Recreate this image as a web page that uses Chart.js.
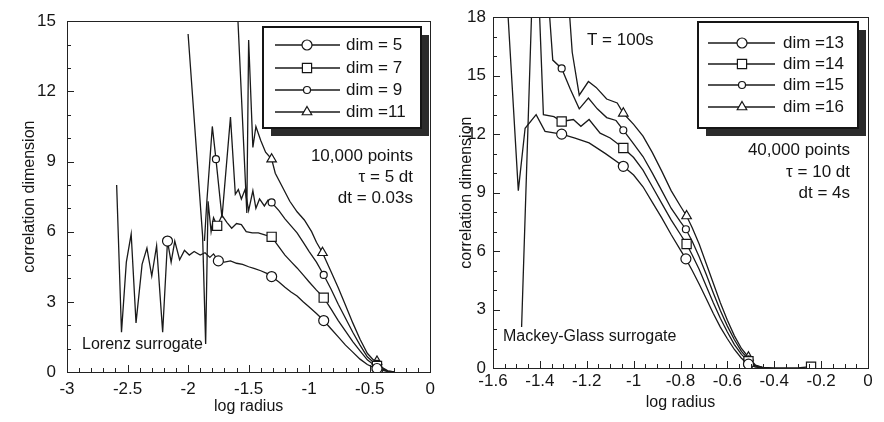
<!DOCTYPE html>
<html>
<head>
<meta charset="utf-8">
<script src="https://cdn.jsdelivr.net/npm/chart.js@4.4.1/dist/chart.umd.min.js"></script>
<style>
  html, body { margin: 0; padding: 0; background: #fff; }
  #wrap { position: relative; width: 884px; height: 422px; }
  .panel { position: absolute; top: 0; width: 442px; height: 422px; }
</style>
</head>
<body>
<div id="wrap">
  <div class="panel" style="left:0"><canvas id="lorenz" width="442" height="422"></canvas></div>
  <div class="panel" style="left:442px"><canvas id="mackey" width="442" height="422"></canvas></div>
</div>
<script>
// ---- Lorenz surrogate (left panel) ----
const lzDim5X = [-2.59,-2.55,-2.51,-2.47,-2.43,-2.38,-2.34,-2.30,-2.26,-2.21,-2.17,-2.14,-2.11,-2.07,-2.03,-1.99,-1.95,-1.90,-1.86,-1.82,-1.79,-1.75,-1.70,-1.65,-1.60,-1.55,-1.50,-1.45,-1.40,-1.35,-1.31,-1.25,-1.20,-1.15,-1.10,-1.05,-1.00,-0.94,-0.88,-0.82,-0.76,-0.70,-0.64,-0.58,-0.52,-0.47,-0.44,-0.40,-0.35,-0.30];
const lzDim5Y = [8.0,1.7,4.7,5.9,2.1,4.6,5.3,4.1,5.4,1.7,5.6,4.7,5.6,4.8,5.2,5.0,5.15,5.0,5.1,4.9,5.05,4.75,4.7,4.75,4.65,4.6,4.5,4.42,4.33,4.22,4.08,3.85,3.62,3.42,3.25,3.0,2.78,2.5,2.2,1.85,1.5,1.15,0.85,0.55,0.32,0.2,0.15,0.08,0.02,0.0];
const lzDim5Marks = [-2.17,-1.75,-1.31,-0.88,-0.44];

const lzDim7X = [-2.00,-1.88,-1.855,-1.835,-1.81,-1.79,-1.76,-1.72,-1.68,-1.64,-1.60,-1.56,-1.52,-1.47,-1.42,-1.36,-1.31,-1.25,-1.20,-1.15,-1.10,-1.05,-1.00,-0.94,-0.88,-0.82,-0.76,-0.70,-0.64,-0.58,-0.52,-0.47,-0.44,-0.40,-0.35,-0.30];
const lzDim7Y = [14.45,5.8,1.2,7.3,6.0,6.6,6.25,6.7,6.4,6.15,6.35,6.3,6.0,5.95,5.95,5.85,5.78,5.35,5.0,4.72,4.45,4.15,3.85,3.5,3.18,2.7,2.2,1.75,1.3,0.9,0.52,0.32,0.26,0.12,0.03,0.0];
const lzDim7Marks = [-1.76,-1.31,-0.88,-0.44];

const lzDim9X = [-1.865,-1.845,-1.80,-1.77,-1.72,-1.65,-1.61,-1.585,-1.56,-1.53,-1.50,-1.465,-1.44,-1.41,-1.37,-1.34,-1.31,-1.25,-1.20,-1.15,-1.10,-1.05,-1.00,-0.94,-0.88,-0.82,-0.76,-0.70,-0.64,-0.58,-0.52,-0.47,-0.44,-0.40,-0.35,-0.30];
const lzDim9Y = [5.6,7.3,10.5,9.1,6.6,10.9,7.6,7.8,7.4,7.8,6.9,7.75,7.0,7.4,7.1,7.35,7.25,6.9,6.55,6.25,5.95,5.55,5.15,4.7,4.15,3.55,2.9,2.3,1.7,1.15,0.65,0.42,0.35,0.15,0.04,0.0];
const lzDim9Marks = [-1.77,-1.31,-0.88,-0.44];

const lzDim11X = [-1.597,-1.515,-1.50,-1.465,-1.44,-1.40,-1.36,-1.31,-1.28,-1.22,-1.16,-1.10,-1.04,-0.98,-0.94,-0.89,-0.82,-0.76,-0.70,-0.64,-0.58,-0.52,-0.47,-0.44,-0.40,-0.35,-0.30];
const lzDim11Y = [16.0,6.8,14.2,9.6,10.5,9.9,9.4,9.1,8.5,7.9,7.3,6.85,6.5,6.0,5.55,5.1,4.3,3.6,2.85,2.1,1.4,0.8,0.52,0.45,0.2,0.05,0.0];
const lzDim11Marks = [-1.31,-0.89,-0.44];

const lzXTicks = [-3,-2.5,-2,-1.5,-1,-0.5,0];
const lzXLabels = ['-3','-2.5','-2','-1.5','-1','-0.5','0'];
const lzYTicks = [0,3,6,9,12,15];
const lzYLabels = ['0','3','6','9','12','15'];

// ---- Mackey-Glass surrogate (right panel) ----
const mgDim13X = [-1.55,-1.492,-1.463,-1.416,-1.378,-1.307,-1.25,-1.19,-1.12,-1.044,-1.00,-0.96,-0.92,-0.88,-0.84,-0.80,-0.777,-0.75,-0.72,-0.69,-0.66,-0.63,-0.60,-0.57,-0.54,-0.51,-0.48,-0.45];
const mgDim13Y = [21,9.1,12.3,13.0,12.14,12.0,11.8,11.55,11.0,10.35,9.9,9.3,8.5,7.7,6.85,6.05,5.6,5.0,4.3,3.55,2.8,2.1,1.5,0.95,0.5,0.2,0.05,0.0];
const mgDim13Marks = [-1.307,-1.044,-0.777,-0.51];

const mgDim14X = [-1.478,-1.42,-1.385,-1.34,-1.307,-1.257,-1.225,-1.19,-1.143,-1.10,-1.044,-1.00,-0.96,-0.92,-0.88,-0.84,-0.80,-0.774,-0.75,-0.72,-0.69,-0.66,-0.63,-0.60,-0.57,-0.54,-0.51,-0.48,-0.45,-0.40,-0.30,-0.243];
const mgDim14Y = [2.1,24,13.0,12.9,12.65,12.75,12.4,12.75,12.05,11.8,11.29,10.8,10.15,9.3,8.45,7.6,6.85,6.36,5.8,5.05,4.2,3.35,2.55,1.85,1.2,0.7,0.35,0.1,0.03,0.0,0.0,0.07];
const mgDim14Marks = [-1.307,-1.044,-0.774,-0.51,-0.243];

const mgDim15X = [-1.37,-1.345,-1.307,-1.27,-1.232,-1.193,-1.155,-1.115,-1.075,-1.044,-1.00,-0.96,-0.92,-0.88,-0.84,-0.80,-0.777,-0.75,-0.72,-0.69,-0.66,-0.63,-0.60,-0.57,-0.54,-0.51,-0.48,-0.45];
const mgDim15Y = [20,15.8,15.37,14.3,13.3,13.85,13.3,12.85,12.7,12.2,11.5,10.85,10.0,9.1,8.2,7.5,7.12,6.5,5.7,4.8,3.85,2.95,2.15,1.45,0.85,0.45,0.12,0.02];
const mgDim15Marks = [-1.307,-1.044,-0.777,-0.51];

const mgDim16X = [-1.29,-1.262,-1.232,-1.193,-1.16,-1.115,-1.07,-1.044,-1.00,-0.96,-0.92,-0.88,-0.84,-0.80,-0.774,-0.75,-0.72,-0.69,-0.66,-0.63,-0.60,-0.57,-0.54,-0.51,-0.48,-0.45];
const mgDim16Y = [21,16.2,14.0,14.7,14.4,13.8,13.6,13.07,12.5,11.9,11.05,10.1,9.1,8.3,7.8,7.2,6.35,5.35,4.35,3.35,2.45,1.65,1.0,0.55,0.15,0.03];
const mgDim16Marks = [-1.044,-0.774,-0.51];

const mgXTicks = [-1.6,-1.4,-1.2,-1,-0.8,-0.6,-0.4,-0.2,0];
const mgXLabels = ['-1.6','-1.4','-1.2','-1','-0.8','-0.6','-0.4','-0.2','0'];
const mgYTicks = [0,3,6,9,12,15,18];
const mgYLabels = ['0','3','6','9','12','15','18'];

const FONT = '"Liberation Sans", Arial, Helvetica, sans-serif';
const INK = '#151515';
Chart.defaults.font.family = FONT;
Chart.defaults.font.size = 16;
Chart.defaults.color = INK;

const drawPt = Chart.helpers && Chart.helpers.drawPoint;

// frame, inward ticks, notes and the boxed legend with drop shadow
const panelDecor = {
  id: 'panelDecor',
  afterDatasetsDraw(chart, args, opts) {
    const { ctx, chartArea: a, scales: { x, y } } = chart;
    ctx.save();
    ctx.strokeStyle = '#222';
    ctx.lineWidth = 1;

    const ticks = (scale, step, major, horiz) => {
      const n = Math.round((scale.max - scale.min) / step);
      for (let i = 0; i <= n; i++) {
        const v = scale.min + i * step;
        const isMajor = Math.abs(v / major - Math.round(v / major)) < 1e-6;
        const len = isMajor ? 7 : 4;
        const p = Math.round(scale.getPixelForValue(v)) + 0.5;
        ctx.beginPath();
        if (horiz) { ctx.moveTo(p, a.bottom); ctx.lineTo(p, a.bottom - len); }
        else { ctx.moveTo(a.left, p); ctx.lineTo(a.left + len, p); }
        ctx.stroke();
      }
    };
    ticks(x, opts.xMinor, opts.xMajor, true);
    ticks(y, opts.yMinor, opts.yMajor, false);
    ctx.strokeRect(Math.round(a.left) + 0.5, Math.round(a.top) + 0.5,
                   Math.round(a.right - a.left), Math.round(a.bottom - a.top));

    ctx.fillStyle = INK;
    ctx.textBaseline = 'middle';
    opts.notes.forEach(n => {
      ctx.font = n.size + 'px ' + FONT;
      ctx.textAlign = n.align;
      ctx.fillText(n.text, n.x, n.y);
    });

    const L = opts.legend;
    ctx.fillStyle = '#2b2b2b';
    ctx.fillRect(L.x + L.shadow, L.y + L.shadow, L.w, L.h);
    ctx.fillStyle = '#fff';
    ctx.fillRect(L.x, L.y, L.w, L.h);
    ctx.lineWidth = 2;
    ctx.strokeStyle = INK;
    ctx.strokeRect(L.x, L.y, L.w, L.h);

    ctx.font = '17px ' + FONT;
    chart.data.datasets.forEach((ds, i) => {
      const yy = L.rows[i];
      ctx.lineWidth = 1.3;
      ctx.strokeStyle = '#1a1a1a';
      ctx.beginPath();
      ctx.moveTo(L.x0, yy);
      ctx.lineTo(L.x1, yy);
      ctx.stroke();
      ctx.fillStyle = '#fff';
      ctx.strokeStyle = INK;
      ctx.lineWidth = 1.2;
      if (drawPt) drawPt(ctx, { pointStyle: ds.pointStyle, radius: ds.markSize, borderWidth: 1.2, rotation: 0 }, L.xm, yy);
      ctx.fillStyle = INK;
      ctx.textAlign = 'left';
      ctx.fillText(ds.label, L.xt, yy);
    });
    ctx.restore();
  }
};

function makeSeries(label, xs, ys, marks, style, size) {
  return {
    label,
    data: xs.map((x, i) => ({ x, y: ys[i] })),
    marks,
    markSize: size,
    pointStyle: style,
    borderColor: '#1a1a1a',
    borderWidth: 1.3,
    pointRadius: ctx => (ctx.raw && ctx.dataset.marks.includes(ctx.raw.x)) ? ctx.dataset.markSize : 0,
    pointHoverRadius: 0,
    pointBackgroundColor: '#fff',
    pointBorderColor: INK,
    pointBorderWidth: 1.2,
    tension: 0,
    fill: false
  };
}

function makeChart(id, datasets, cfg) {
  return new Chart(document.getElementById(id), {
    type: 'line',
    data: { datasets },
    plugins: [panelDecor],
    options: {
      responsive: false,
      animation: false,
      devicePixelRatio: 1,
      layout: { padding: cfg.padding },
      plugins: {
        legend: { display: false },
        tooltip: { enabled: false },
        panelDecor: cfg.decor
      },
      scales: {
        x: {
          type: 'linear',
          min: cfg.xTicks[0],
          max: cfg.xTicks[cfg.xTicks.length - 1],
          afterBuildTicks: s => { s.ticks = cfg.xTicks.map(v => ({ value: v })); },
          afterFit: s => { s.height = cfg.xHeight; },
          ticks: { callback: (v, i) => cfg.xLabels[i], padding: cfg.xPad, maxRotation: 0, autoSkip: false, font: { size: 17 } },
          grid: { display: false, drawTicks: false },
          border: { display: false },
          title: { display: true, text: 'log radius', padding: { top: 0, bottom: cfg.xTitlePad } }
        },
        y: {
          min: cfg.yTicks[0],
          max: cfg.yTicks[cfg.yTicks.length - 1],
          afterBuildTicks: s => { s.ticks = cfg.yTicks.map(v => ({ value: v })); },
          afterFit: s => { s.width = cfg.yWidth; },
          ticks: { callback: (v, i) => cfg.yLabels[i], padding: cfg.yPad, autoSkip: false, font: { size: 17 } },
          grid: { display: false, drawTicks: false },
          border: { display: false },
          title: { display: true, text: 'correlation dimension', padding: { top: cfg.yTitlePad, bottom: 0 } }
        }
      }
    }
  });
}

makeChart('lorenz', [
  makeSeries('dim = 5', lzDim5X, lzDim5Y, lzDim5Marks, 'circle', 5),
  makeSeries('dim = 7', lzDim7X, lzDim7Y, lzDim7Marks, 'rect', 6.5),
  makeSeries('dim = 9', lzDim9X, lzDim9Y, lzDim9Marks, 'circle', 3.5),
  makeSeries('dim =11', lzDim11X, lzDim11Y, lzDim11Marks, 'triangle', 5.5)
], {
  padding: { top: 18, right: 10, left: 0, bottom: 0 },
  xTicks: lzXTicks, xLabels: lzXLabels, yTicks: lzYTicks, yLabels: lzYLabels,
  xHeight: 50, yWidth: 67, xPad: 7, yPad: 11, xTitlePad: 6, yTitlePad: 20,
  decor: {
    xMinor: 0.1, xMajor: 0.5, yMinor: 1, yMajor: 3,
    notes: [
      { text: '10,000 points', x: 413, y: 156, align: 'right', size: 17 },
      { text: 'τ = 5 dt', x: 413, y: 177, align: 'right', size: 17 },
      { text: 'dt = 0.03s', x: 413, y: 198, align: 'right', size: 17 },
      { text: 'Lorenz surrogate', x: 82, y: 345, align: 'left', size: 16 }
    ],
    legend: { x: 263, y: 27, w: 158, h: 101, shadow: 8, rows: [45, 68, 90, 112], x0: 275, x1: 340, xm: 307, xt: 346 }
  }
});

makeChart('mackey', [
  makeSeries('dim =13', mgDim13X, mgDim13Y, mgDim13Marks, 'circle', 5),
  makeSeries('dim =14', mgDim14X, mgDim14Y, mgDim14Marks, 'rect', 6.5),
  makeSeries('dim =15', mgDim15X, mgDim15Y, mgDim15Marks, 'circle', 3.5),
  makeSeries('dim =16', mgDim16X, mgDim16Y, mgDim16Marks, 'triangle', 5.5)
], {
  padding: { top: 15, right: 16, left: 0, bottom: 0 },
  xTicks: mgXTicks, xLabels: mgXLabels, yTicks: mgYTicks, yLabels: mgYLabels,
  xHeight: 54, yWidth: 51, xPad: 3, yPad: 7, xTitlePad: 10, yTitlePad: 15,
  decor: {
    xMinor: 0.05, xMajor: 0.2, yMinor: 1, yMajor: 3,
    notes: [
      { text: 'T = 100s', x: 145, y: 40, align: 'left', size: 17 },
      { text: '40,000 points', x: 408, y: 150, align: 'right', size: 17 },
      { text: 'τ = 10 dt', x: 408, y: 172, align: 'right', size: 17 },
      { text: 'dt = 4s', x: 408, y: 193, align: 'right', size: 17 },
      { text: 'Mackey-Glass surrogate', x: 61, y: 337, align: 'left', size: 16 }
    ],
    legend: { x: 256, y: 22, w: 160, h: 106, shadow: 8, rows: [43, 64, 85, 107], x0: 266, x1: 333, xm: 300, xt: 341 }
  }
});
</script>
</body>
</html>
